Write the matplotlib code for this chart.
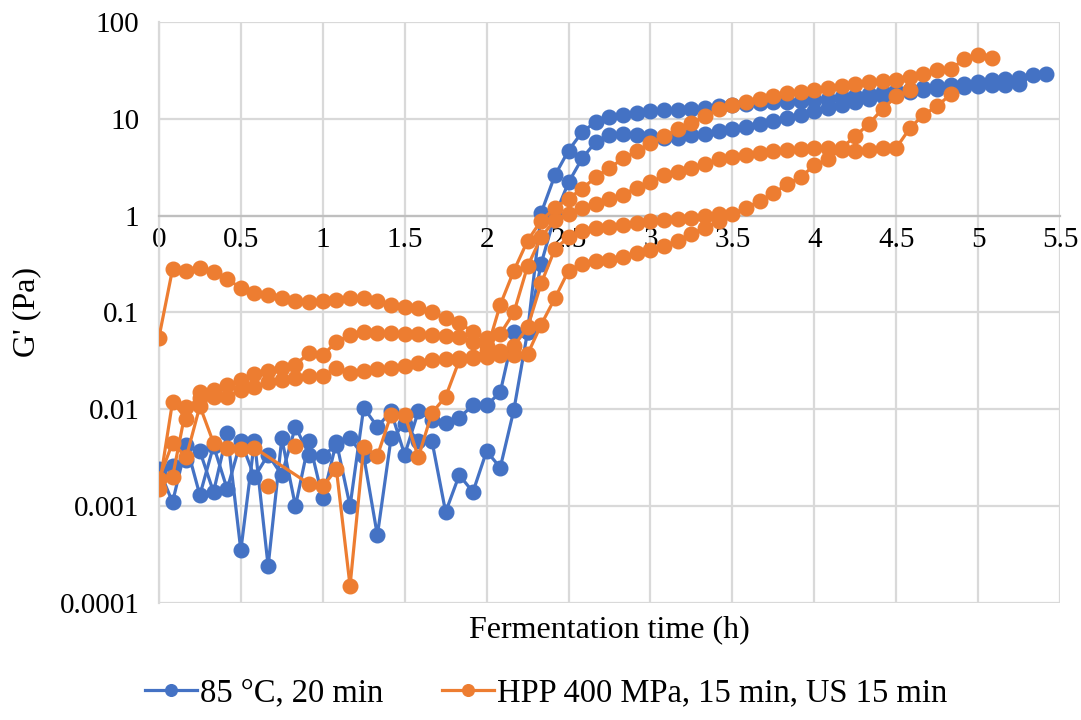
import matplotlib
matplotlib.use("Agg")
import matplotlib.pyplot as plt
import numpy as np

plt.rcParams['font.family'] = ['Liberation Serif', 'DejaVu Serif']

STEP = 1 / 12  # readings every 5 min

# 85 °C, 20 min (two replicates)
heat_a = [0.0022, 0.0026, 0.003, 0.0037, 0.0014, 0.0057, 0.00035, 0.0047, 0.00024, 0.005,
          0.001, 0.0047, 0.0012, 0.0046, 0.001, 0.0104, 0.0066, 0.0095, 0.0034, 0.0095,
          0.0078, 0.0073, 0.0082, 0.011, 0.011, 0.015, 0.063, 0.063, 1.07, 2.6,
          4.7, 7.3, 9.3, 10.5, 11, 11.5, 12, 12.2, 12.4, 12.7,
          13, 13.5, 14, 14.3, 14.5, 14.8, 15, 15.3, 15.8, 16.2,
          16.8, 17.3, 18, 18.7, 19.2, 20, 20.8, 21.6, 22.3, 23,
          24, 25, 25.5, 26.5, 28, 29]
heat_b = [0.0024, 0.0011, 0.0043, 0.0013, 0.0042, 0.0015, 0.0047, 0.002, 0.0034, 0.0021,
          0.0066, 0.0034, 0.0033, 0.0043, 0.005, 0.0033, 0.0005, 0.005, 0.007, 0.0047,
          0.0047, 0.00087, 0.0021, 0.0014, 0.0037, 0.0025, 0.0099, 0.063, 0.32, 1.0,
          2.2, 3.9, 5.8, 6.8, 7, 6.8, 6.6, 6.4, 6.4, 6.8,
          7.0, 7.5, 7.9, 8.2, 8.8, 9.6, 10.2, 11, 12, 13,
          14, 15, 16, 17, 18, 19, 20, 20.5, 21, 21.5,
          22, 22.3, 22.5, 22.7]

# HPP 400 MPa, 15 min, US 15 min (four replicates, None = missing reading)
hpp_a = [0.0019, 0.0045, 0.0032, 0.0108, 0.0045, 0.004, 0.0039, 0.004, None, None,
         None, 0.0017, 0.0016, 0.0024, 0.00015, 0.0041, 0.0033, 0.0088, 0.0088, 0.0032,
         0.0092, 0.0135, 0.032, 0.035, 0.04, 0.12, 0.27, 0.55, 0.89, 1.2,
         1.5, 1.9, 2.5, 3.1, 3.9, 4.6, 5.6, 6.6, 7.8, 9,
         10.6, 12.5, 14, 15, 16, 17, 18.4, 19, 20, 21,
         22, 23, 24, 24.5, 25, 27, 29, 32, 33, 41,
         46, 42]
hpp_b = [0.055, 0.28, 0.27, 0.29, 0.26, 0.22, 0.18, 0.16, 0.15, 0.14,
         0.13, 0.128, 0.13, 0.135, 0.14, 0.14, 0.13, 0.12, 0.115, 0.11,
         0.1, 0.087, 0.078, 0.063, 0.055, 0.06, 0.1, 0.3, 0.6, 0.9,
         1.05, 1.2, 1.33, 1.5, 1.65, 1.95, 2.2, 2.6, 2.85, 3.1,
         3.4, 3.85, 4.0, 4.2, 4.4, 4.6, 4.8, 4.9, 5.0, 5.0,
         4.8, 4.7, 4.8, 5.0, 5.0, 8, 11, 13.5, 18]
hpp_c = [0.0015, 0.012, 0.008, 0.015, 0.016, 0.018, 0.02, 0.023, 0.025, 0.027,
         0.029, 0.038, 0.036, 0.05, 0.058, 0.063, 0.062, 0.062, 0.06, 0.06,
         0.058, 0.057, 0.056, 0.05, 0.045, 0.04, 0.045, 0.07, 0.2, 0.45,
         0.6, 0.7, 0.75, 0.77, 0.8, 0.83, 0.88, 0.9, 0.92, 0.95,
         0.98, 1.05]
hpp_d = [0.0019, 0.002, 0.0105, 0.013, 0.0135, 0.0135, 0.016, 0.017, 0.019, 0.02,
         0.021, 0.022, 0.022, 0.027, 0.024, 0.025, 0.026, 0.027, 0.028, 0.03,
         0.032, 0.033, 0.034, 0.034, 0.035, 0.036, 0.036, 0.037, 0.075, 0.14,
         0.27, 0.32, 0.34, 0.35, 0.37, 0.41, 0.44, 0.49, 0.55, 0.65,
         0.75, 0.88, 1.05, 1.2, 1.42, 1.7, 2.1, 2.5, 3.3, 3.8,
         5.0, 6.6, 8.9, 12.6, 17, 20]
# lone readings not joined to a line
hpp_lone_t = [0.667, 0.833]
hpp_lone_g = [0.0016, 0.0042]

BLUE = '#4472C4'
ORANGE = '#ED7D31'

fig = plt.figure(figsize=(10.81, 7.2), dpi=100)
ax = fig.add_axes([0.147, 0.1625, 0.8336, 0.807])


def draw(vals, color):
    y = np.array([np.nan if v is None else v for v in vals], dtype=float)
    t = np.arange(len(y)) * STEP
    ok = ~np.isnan(y)
    return ax.plot(t[ok], y[ok], color=color, lw=2.3, marker='o', ms=10.5,
                   zorder=3)[0]


h_heat = draw(heat_a, BLUE)
draw(heat_b, BLUE)
h_hpp = draw(hpp_a, ORANGE)
draw(hpp_b, ORANGE)
draw(hpp_c, ORANGE)
draw(hpp_d, ORANGE)
ax.plot(hpp_lone_t, hpp_lone_g, ls='none', marker='o', ms=10.5, color=ORANGE, zorder=3)

ax.set_yscale('log')
ax.set_ylim(0.0001, 100)
ax.set_xlim(0, 5.5)
yt = [0.0001, 0.001, 0.01, 0.1, 1, 10, 100]
ax.set_yticks(yt)
ax.set_yticklabels(['0.0001', '0.001', '0.01', '0.1', '1', '10', '100'])
ax.yaxis.set_minor_locator(matplotlib.ticker.NullLocator())
xt = np.arange(0, 5.51, 0.5)
ax.set_xticks(xt)
ax.set_xticklabels(['0', '0.5', '1', '1.5', '2', '2.5', '3', '3.5', '4', '4.5', '5', '5.5'])

ax.grid(True, color='#D9D9D9', lw=1.6, zorder=0)
ax.set_axisbelow(True)
for s in ['top', 'right']:
    ax.spines[s].set_visible(False)
ax.spines['left'].set_color('#D9D9D9')
ax.spines['left'].set_linewidth(1.6)
ax.spines['bottom'].set_position(('data', 1))
ax.spines['bottom'].set_color('#BFBFBF')
ax.spines['bottom'].set_linewidth(1.6)
ax.tick_params(axis='both', length=0, labelsize=21, colors='black')
ax.tick_params(axis='y', pad=14)
ax.tick_params(axis='x', pad=8)

fig.text(0.5635, 0.125, 'Fermentation time (h)', ha='center', va='center', fontsize=23)
fig.text(0.025, 0.567, "G' (Pa)", ha='center', va='center', rotation=90, fontsize=23)

fig.legend([h_heat, h_hpp], ['85 °C, 20 min', 'HPP 400 MPa, 15 min, US 15 min'],
           loc='center', bbox_to_anchor=(0.505, 0.0375), ncol=2, frameon=False,
           fontsize=23.5, handlelength=1.6, handletextpad=0.08, columnspacing=1.8,
           markerscale=0.8)

plt.savefig('out.png', dpi=100)
